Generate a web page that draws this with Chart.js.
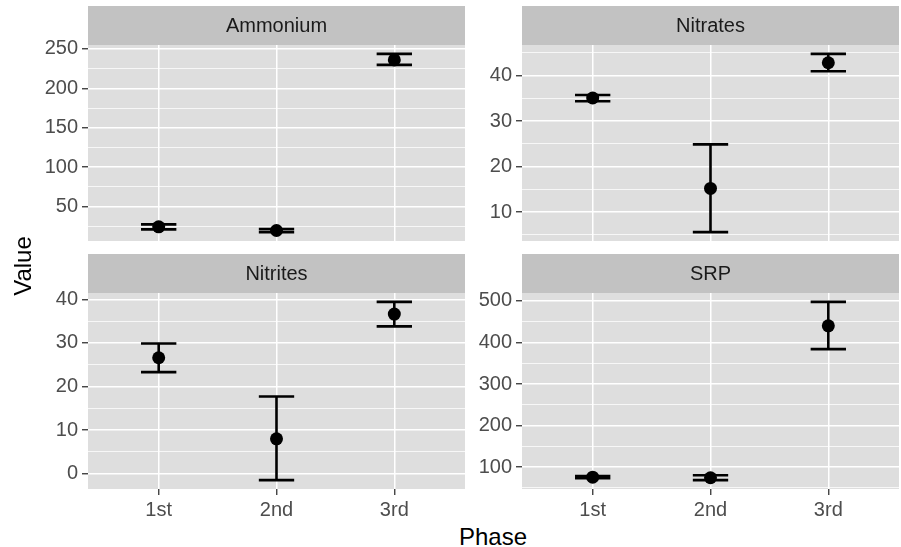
<!DOCTYPE html>
<html>
<head>
<meta charset="utf-8">
<script src="https://cdn.jsdelivr.net/npm/chart.js@4"></script>
<style>
  body { margin:0; background:#fff; width:901px; height:547px; position:relative; overflow:hidden;
         font-family:"Liberation Sans", Arial, sans-serif; }
  canvas { position:absolute; }
  .title { position:absolute; font-size:24px; line-height:24px; color:#000; white-space:nowrap; }
</style>
</head>
<body>
<canvas id="c1" width="465" height="261" style="left:0;top:0;width:465px;height:261px"></canvas>
<canvas id="c2" width="435" height="261" style="left:466px;top:0;width:435px;height:261px"></canvas>
<canvas id="c3" width="465" height="273" style="left:0;top:247px;width:465px;height:273px"></canvas>
<canvas id="c4" width="435" height="273" style="left:466px;top:247px;width:435px;height:273px"></canvas>
<div class="title" style="left:443px;top:525px;width:100px;text-align:center">Phase</div>
<div class="title" style="left:-27px;top:254px;width:100px;text-align:center;transform:rotate(-90deg)">Value</div>
<script>
const phases = ['1st', '2nd', '3rd'];

const ammoniumMean = [24.2, 19.5, 236.1];
const ammoniumLow  = [21.0, 17.5, 229.8];
const ammoniumHigh = [27.3, 21.5, 243.7];

const nitratesMean = [35.1, 15.2, 42.85];
const nitratesLow  = [34.4, 5.6, 41.0];
const nitratesHigh = [35.75, 24.9, 44.8];

const nitritesMean = [26.6, 8.0, 36.6];
const nitritesLow  = [23.3, -1.45, 33.8];
const nitritesHigh = [29.85, 17.7, 39.4];

const srpMean = [76, 74.6, 440];
const srpLow  = [73.4, 69, 384];
const srpHigh = [79, 80.5, 497.6];

const ammoniumTicks = [50, 100, 150, 200, 250];
const nitratesTicks = [10, 20, 30, 40];
const nitritesTicks = [0, 10, 20, 30, 40];
const srpTicks = [100, 200, 300, 400, 500];

const FONT = '"Liberation Sans", Arial, sans-serif';
Chart.defaults.font.family = FONT;

// grey panel background + facet strip on top
const panelBg = {
  id: 'panelBg',
  beforeDraw(chart){
    const {ctx, chartArea: a} = chart;
    ctx.save();
    ctx.fillStyle = '#DEDEDE';
    ctx.fillRect(a.left, a.top, a.right - a.left, a.bottom - a.top);
    ctx.fillStyle = '#C2C2C2';
    ctx.fillRect(a.left, a.top - 39, a.right - a.left, 39);
    ctx.fillStyle = '#1A1A1A';
    ctx.font = '20px ' + FONT;
    ctx.textAlign = 'center';
    ctx.textBaseline = 'middle';
    ctx.fillText(chart.options.plugins.panelBg.name, (a.left + a.right) / 2, a.top - 19);
    ctx.restore();
  }
};

// error bars from the dataset's low/high arrays
const errBars = {
  id: 'errBars',
  beforeDatasetsDraw(chart){
    const ds = chart.data.datasets[0];
    const x = chart.scales.x, y = chart.scales.y;
    const ctx = chart.ctx;
    ctx.save();
    ctx.strokeStyle = '#000';
    ctx.lineWidth = 2.6;
    ds.low.forEach((lo, i) => {
      const hi = ds.high[i];
      const xc = x.getPixelForValue(i);
      const xl = x.getPixelForValue(i - 0.15), xr = x.getPixelForValue(i + 0.15);
      const yl = y.getPixelForValue(lo), yh = y.getPixelForValue(hi);
      ctx.beginPath();
      ctx.moveTo(xc, yl); ctx.lineTo(xc, yh);
      ctx.moveTo(xl, yl); ctx.lineTo(xr, yl);
      ctx.moveTo(xl, yh); ctx.lineTo(xr, yh);
      ctx.stroke();
    });
    ctx.restore();
  }
};

function makePanel(id, name, mean, low, high, majors, yWidth, padRight, bottomRow){
  const lo = Math.min(...low), hi = Math.max(...high);
  const pad = (hi - lo) * 0.05;
  const min = lo - pad, max = hi + pad;
  const step = majors[1] - majors[0];
  const minors = majors.map(v => v - step / 2)
    .concat([majors[majors.length - 1] + step / 2])
    .filter(v => v > min && v < max);
  const isMajor = v => majors.includes(v);

  new Chart(document.getElementById(id), {
    type: 'scatter',
    data: {
      datasets: [{
        data: mean.map((m, i) => ({x: i, y: m})),
        low: low, high: high,
        pointRadius: 6.5,
        pointBackgroundColor: '#000',
        pointBorderWidth: 0,
        showLine: false
      }]
    },
    options: {
      responsive: false,
      animation: false,
      layout: { autoPadding: false,
                padding: { top: bottomRow ? 46 : 45, right: padRight, left: 0, bottom: 0 } },
      plugins: {
        legend: { display: false },
        tooltip: { enabled: false },
        panelBg: { name: name }
      },
      scales: {
        x: {
          type: 'linear', min: -0.6, max: 2.6,
          afterBuildTicks: s => { s.ticks = phases.map((p, i) => ({value: i})); },
          afterFit: s => { s.height = bottomRow ? 31 : 20; },
          border: { display: false },
          grid: { color: '#FFFFFF', lineWidth: 1.5, drawTicks: bottomRow, tickLength: 6,
                  tickColor: '#333333', tickWidth: 1.3 },
          ticks: { display: bottomRow, padding: 3, color: '#4D4D4D', font: { size: 20 },
                   maxRotation: 0, autoSkip: false,
                   callback: v => phases[v] }
        },
        y: {
          type: 'linear', min: min, max: max,
          afterBuildTicks: s => {
            s.ticks = majors.concat(minors).sort((a, b) => a - b).map(v => ({value: v}));
          },
          afterFit: s => { s.width = yWidth; },
          border: { display: false },
          grid: {
            color: '#FFFFFF',
            lineWidth: c => isMajor(c.tick.value) ? 1.5 : 0.75,
            tickLength: 6,
            tickColor: c => isMajor(c.tick.value) ? '#333333' : 'rgba(0,0,0,0)',
            tickWidth: 1.3
          },
          ticks: { padding: 4, color: '#4D4D4D', font: { size: 20 }, autoSkip: false,
                   callback: v => isMajor(v) ? String(v) : '' }
        }
      }
    },
    plugins: [panelBg, errBars]
  });
}

makePanel('c1', 'Ammonium', ammoniumMean, ammoniumLow, ammoniumHigh, ammoniumTicks, 88, 0, false);
makePanel('c2', 'Nitrates', nitratesMean, nitratesLow, nitratesHigh, nitratesTicks, 56, 2, false);
makePanel('c3', 'Nitrites', nitritesMean, nitritesLow, nitritesHigh, nitritesTicks, 88, 0, true);
makePanel('c4', 'SRP', srpMean, srpLow, srpHigh, srpTicks, 56, 2, true);
</script>
</body>
</html>
